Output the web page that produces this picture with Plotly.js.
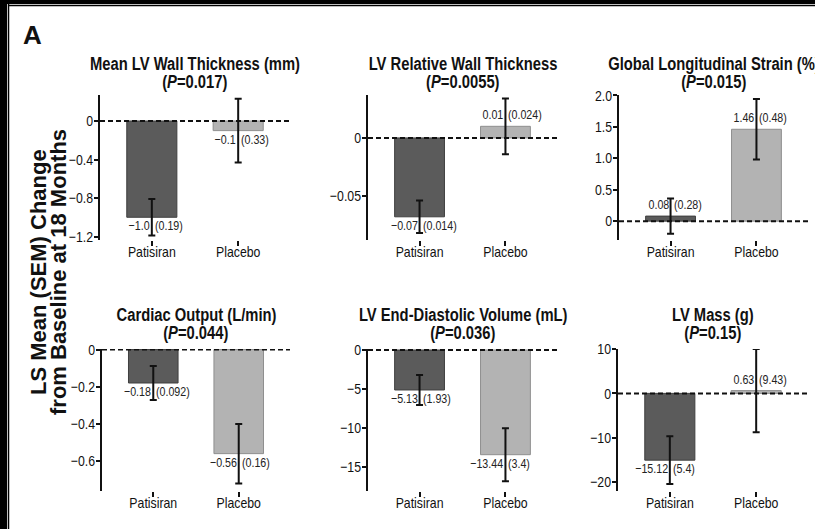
<!DOCTYPE html>
<html>
<head>
<meta charset="utf-8">
<script src="https://cdn.plot.ly/plotly-3.0.1.min.js"></script>
<style>html,body{margin:0;padding:0;background:#fff;}#chart{width:815px;height:529px;}</style>
</head>
<body>
<div id="chart"></div>
<script>
// ---- data ----
const categories = ['Patisiran', 'Placebo'];

const panelTitles = [
  'Mean LV Wall Thickness (mm)',
  'LV Relative Wall Thickness',
  'Global Longitudinal Strain (%)',
  'Cardiac Output (L/min)',
  'LV End-Diastolic Volume (mL)',
  'LV Mass (g)'
];
const pValues = ['0.017', '0.0055', '0.015', '0.044', '0.036', '0.15'];

const wallThickness = [-1.0, -0.1];
const wallThicknessSem = [0.19, 0.33];
const wallThicknessLabels = ['\u22121.0', '\u22120.1'];
const wallThicknessSemLabels = ['(0.19)', '(0.33)'];

const relWallThickness = [-0.068, 0.01];
const relWallThicknessSem = [0.014, 0.024];
const relWallThicknessLabels = ['\u22120.07', '0.01'];
const relWallThicknessSemLabels = ['(0.014)', '(0.024)'];

const gls = [0.08, 1.46];
const glsSem = [0.28, 0.48];
const glsLabels = ['0.08', '1.46'];
const glsSemLabels = ['(0.28)', '(0.48)'];

const cardiacOutput = [-0.18, -0.56];
const cardiacOutputSem = [0.092, 0.16];
const cardiacOutputLabels = ['\u22120.18', '\u22120.56'];
const cardiacOutputSemLabels = ['(0.092)', '(0.16)'];

const lvedv = [-5.13, -13.44];
const lvedvSem = [1.93, 3.4];
const lvedvLabels = ['\u22125.13', '\u221213.44'];
const lvedvSemLabels = ['(1.93)', '(3.4)'];

const lvMass = [-15.12, 0.63];
const lvMassSem = [5.4, 9.43];
const lvMassLabels = ['\u221215.12', '0.63'];
const lvMassSemLabels = ['(5.4)', '(9.43)'];

const tickVals = [
  [0, -0.4, -0.8, -1.2],
  [0, -0.05],
  [0, 0.5, 1.0, 1.5, 2.0],
  [0, -0.2, -0.4, -0.6],
  [0, -5, -10, -15],
  [10, 0, -10, -20]
];
const tickTexts = [
  ['0', '\u22120.4', '\u22120.8', '\u22121.2'],
  ['0', '\u22120.05'],
  ['0', '0.5', '1.0', '1.5', '2.0'],
  ['0', '\u22120.2', '\u22120.4', '\u22120.6'],
  ['0', '\u22125', '\u221210', '\u221215'],
  ['10', '0', '\u221210', '\u221220']
];
const yAxisTitle = ['LS Mean (SEM) Change', 'from Baseline at 18 Months'];

// ---- layout helpers ----
const W = 815, H = 529;
const SANS = '"Liberation Sans", Arial, Helvetica, sans-serif';
const NARROW_FACTOR = 0.82;

const panels = [
  {vals: wallThickness, sem: wallThicknessSem, lab: wallThicknessLabels, semLab: wallThicknessSemLabels, range: [-1.236, 0.27], xpx: [100, 290], ypx: [95, 240]},
  {vals: relWallThickness, sem: relWallThicknessSem, lab: relWallThicknessLabels, semLab: relWallThicknessSemLabels, range: [-0.088, 0.037], xpx: [368, 557], ypx: [95, 240]},
  {vals: gls, sem: glsSem, lab: glsLabels, semLab: glsSemLabels, range: [-0.30, 2.005], xpx: [619, 808], ypx: [95, 240]},
  {vals: cardiacOutput, sem: cardiacOutputSem, lab: cardiacOutputLabels, semLab: cardiacOutputSemLabels, range: [-0.761, 0.003], xpx: [102, 290], ypx: [349, 491]},
  {vals: lvedv, sem: lvedvSem, lab: lvedvLabels, semLab: lvedvSemLabels, range: [-18.1, 0.13], xpx: [368, 557], ypx: [349, 491]},
  {vals: lvMass, sem: lvMassSem, lab: lvMassLabels, semLab: lvMassSemLabels, range: [-22.1, 10.05], xpx: [618, 808], ypx: [349, 491]}
];

const barColors = ['#5b5b5b', '#b3b3b3'];
const barLines = ['#3f3f3f', '#8f8f8f'];

const traces = [];
const narrowAnn = [];
const layout = {
  width: W, height: H,
  margin: {l: 0, r: 0, t: 0, b: 0},
  paper_bgcolor: '#fff', plot_bgcolor: 'rgba(0,0,0,0)',
  showlegend: false,
  font: {family: SANS, color: '#111'},
  annotations: [],
  shapes: []
};
function addAnn(a, narrow) {
  if (narrow) narrowAnn.push(layout.annotations.length);
  layout.annotations.push(a);
}

panels.forEach((p, i) => {
  const n = i + 1;
  const xa = n === 1 ? 'xaxis' : 'xaxis' + n;
  const ya = n === 1 ? 'yaxis' : 'yaxis' + n;
  const xr = n === 1 ? 'x' : 'x' + n;
  const yr = n === 1 ? 'y' : 'y' + n;
  traces.push({
    type: 'bar', x: categories, y: p.vals, xaxis: xr, yaxis: yr, width: 0.58,
    marker: {color: barColors, line: {color: barLines, width: 1}},
    error_y: {type: 'data', array: p.sem, visible: true, color: '#111', thickness: 2, width: 3.5},
    hoverinfo: 'skip'
  });
  layout[xa] = {
    domain: [p.xpx[0] / W, p.xpx[1] / W], anchor: yr, type: 'category',
    range: [-0.6, 1.6], showline: false, showgrid: false, zeroline: false,
    ticks: 'outside', ticklen: 5, tickwidth: 2, tickcolor: '#111', ticklabelstandoff: -7,
    tickfont: {size: 15, family: SANS, color: '#111'}, fixedrange: true
  };
  layout[ya] = {
    domain: [1 - p.ypx[1] / H, 1 - p.ypx[0] / H], anchor: xr,
    range: p.range, showline: true, linecolor: '#111', linewidth: 2,
    showgrid: false, zeroline: false, ticks: 'outside', ticklen: 4, tickwidth: 2, tickcolor: '#111',
    ticklabelstandoff: -2,
    tickmode: 'array', tickvals: tickVals[i], ticktext: tickTexts[i],
    tickfont: {size: 15, family: SANS, color: '#111'}, fixedrange: true
  };
  // dashed zero line
  layout.shapes.push({
    type: 'line', xref: xr + ' domain', yref: yr, x0: 0, x1: 1, y0: 0, y1: 0,
    line: {color: '#111', width: 2, dash: '5px,3px'}
  });
  // value labels
  categories.forEach((c, k) => {
    const v = p.vals[k];
    const neg = v < 0;
    const common = {xref: xr, yref: yr, x: c, y: v, showarrow: false,
      yanchor: neg ? 'top' : 'bottom', yshift: neg ? 0 : 3, borderpad: 0,
      font: {size: 13, family: SANS, color: '#222'}};
    addAnn(Object.assign({}, common, {text: p.lab[k], xanchor: 'right', align: 'right', xshift: -1}), true);
    addAnn(Object.assign({}, common, {text: p.semLab[k], xanchor: 'left', align: 'left', xshift: 2}), true);
  });
  // panel titles (two lines)
  const cx = (p.xpx[0] + p.xpx[1]) / 2 / W;
  const line1 = i < 3 ? 64 : 315;
  const line2 = i < 3 ? 82 : 333;
  addAnn({xref: 'paper', yref: 'paper', x: cx, y: 1 - line1 / H, xanchor: 'center', yanchor: 'middle',
    showarrow: false, text: '<b>' + panelTitles[i] + '</b>', font: {size: 18, family: SANS, color: '#111'}}, true);
  addAnn({xref: 'paper', yref: 'paper', x: cx, y: 1 - line2 / H, xanchor: 'center', yanchor: 'middle',
    showarrow: false, text: '<b>(<i>P</i>=' + pValues[i] + ')</b>', font: {size: 18, family: SANS, color: '#111'}}, true);
});

// global y-axis title
addAnn({xref: 'paper', yref: 'paper', x: 38 / W, y: 1 - 272 / H, xanchor: 'center', yanchor: 'middle',
  showarrow: false, textangle: -90, text: '<b>' + yAxisTitle[0] + '</b>', font: {size: 22, family: SANS, color: '#111'}}, false);
addAnn({xref: 'paper', yref: 'paper', x: 58 / W, y: 1 - 272 / H, xanchor: 'center', yanchor: 'middle',
  showarrow: false, textangle: -90, text: '<b>' + yAxisTitle[1] + '</b>', font: {size: 22, family: SANS, color: '#111'}}, false);
// panel letter
addAnn({xref: 'paper', yref: 'paper', x: 21 / W, y: 1 - 35 / H, xanchor: 'left', yanchor: 'middle',
  showarrow: false, text: '<b>A</b>', font: {size: 26, family: SANS, color: '#111'}}, false);

// frame (left and top bands)
layout.shapes.push({type: 'rect', xref: 'paper', yref: 'paper', x0: 0, x1: 7 / W, y0: 0, y1: 1, fillcolor: '#000', line: {width: 0}, layer: 'above'});
layout.shapes.push({type: 'line', xref: 'paper', yref: 'paper', x0: 8.5 / W, x1: 8.5 / W, y0: 0, y1: 1 - 4 / H, line: {color: '#000', width: 1.5}, layer: 'above'});
layout.shapes.push({type: 'rect', xref: 'paper', yref: 'paper', x0: 0, x1: 1, y0: 1 - 4 / H, y1: 1, fillcolor: '#000', line: {width: 0}, layer: 'above'});
layout.shapes.push({type: 'line', xref: 'paper', yref: 'paper', x0: 8.5 / W, x1: 1, y0: 1 - 5.5 / H, y1: 1 - 5.5 / H, line: {color: '#000', width: 1.5}, layer: 'above'});

Plotly.newPlot('chart', traces, layout, {staticPlot: true, displayModeBar: false}).then(gd => {
  // emulate the condensed typeface of the original by narrowing glyphs
  const narrow = el => {
    const len = el.getComputedTextLength();
    if (len > 0) {
      el.setAttribute('textLength', (len * NARROW_FACTOR).toFixed(2));
      el.setAttribute('lengthAdjust', 'spacingAndGlyphs');
    }
  };
  gd.querySelectorAll('g[class*="tick"] > text').forEach(narrow);
  narrowAnn.forEach(idx => {
    gd.querySelectorAll('.annotation[data-index="' + idx + '"] text').forEach(narrow);
  });
});
</script>
</body>
</html>
